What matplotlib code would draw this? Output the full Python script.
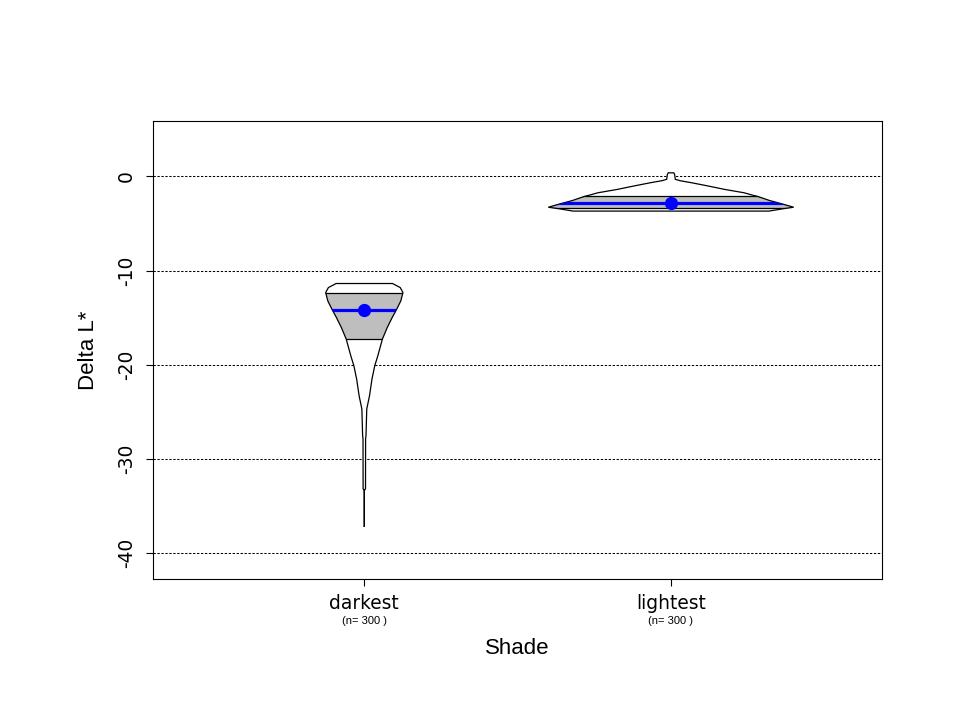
import numpy as np
import matplotlib
matplotlib.use("Agg")
import matplotlib.pyplot as plt
from matplotlib.patches import Polygon, Rectangle

# ---------------- data ----------------
categories = ["darkest", "lightest"]
counts = [300, 300]

# violin outline profiles: value (Delta L*) and half-width of the density
darkest_y = [-11.38, -11.81, -12.34, -13.23, -14.22, -14.99, -16.05, -17.29,
             -18.36, -19.07, -20.13, -21.54, -23.31, -24.72, -27.55, -27.90,
             -33.20, -33.40, -37.27]
darkest_hw = [0.092, 0.117, 0.126, 0.119, 0.104, 0.091, 0.075, 0.059,
              0.050, 0.044, 0.034, 0.025, 0.017, 0.008, 0.0055, 0.0042,
              0.0039, 0.0, 0.0]

lightest_y = [0.39, 0.20, -0.30, -0.45, -0.67, -1.03, -1.38, -1.73, -2.02,
              -2.09, -2.56, -2.91, -3.27, -3.45, -3.68]
lightest_hw = [0.009, 0.012, 0.014, 0.030, 0.068, 0.124, 0.176, 0.238, 0.270,
               0.280, 0.322, 0.362, 0.400, 0.362, 0.319]

q1 = [-17.29, -3.40]
medians = [-14.22, -2.79]
q3 = [-12.41, -2.09]

yticks = [0, -10, -20, -30, -40]

# ---------------- figure ----------------
fig = plt.figure(figsize=(9.6, 7.2), dpi=100)
ax = fig.add_axes([153 / 960, 1 - 579 / 720, (882 - 153) / 960, (579 - 121) / 720])

font = ["Liberation Sans", "DejaVu Sans"]
plt.rcParams["font.family"] = font

ax.set_xlim(0.311, 2.688)
ax.set_ylim(-42.8, 5.9)

for yv in yticks:
    ax.axhline(yv, color="black", lw=0.75, linestyle=(0, (2.2, 1.6)), zorder=1)

profiles = [(darkest_y, darkest_hw), (lightest_y, lightest_hw)]
for i, (ys, hws) in enumerate(profiles):
    pos = i + 1
    ys = np.asarray(ys)
    hws = np.asarray(hws)
    xs = np.concatenate([pos + hws, (pos - hws)[::-1]])
    yy = np.concatenate([ys, ys[::-1]])
    verts = np.column_stack([xs, yy])

    body = Polygon(verts, closed=True, facecolor="white", edgecolor="none", zorder=2)
    ax.add_patch(body)

    box = Rectangle((pos - 1, q1[i]), 2, q3[i] - q1[i], facecolor="#BEBEBE",
                    edgecolor="none", zorder=3)
    ax.add_patch(box)
    box.set_clip_path(body)

    for qv in (q1[i], q3[i]):
        ln, = ax.plot([pos - 1, pos + 1], [qv, qv], color="black", lw=0.9, zorder=4)
        ln.set_clip_path(body)

    outline = Polygon(verts, closed=True, facecolor="none", edgecolor="black",
                      lw=0.9, zorder=5)
    ax.add_patch(outline)

    med, = ax.plot([pos - 1, pos + 1], [medians[i], medians[i]], color="blue",
                   lw=2.3, solid_capstyle="butt", zorder=6)
    med.set_clip_path(body)
    ax.plot([pos], [medians[i]], marker="o", markersize=8.5, color="blue",
            markeredgecolor="blue", zorder=7)

# axes styling
for sp in ax.spines.values():
    sp.set_linewidth(0.8)
    sp.set_color("black")

ax.set_xticks([1, 2])
ax.set_xticklabels(categories, fontsize=13.4)
ax.set_yticks(yticks)
ax.set_yticklabels([str(v) for v in yticks], fontsize=13.4, rotation=90)
for lab in ax.get_yticklabels():
    lab.set_va("center")
ax.tick_params(axis="both", direction="out", length=5.2, width=0.8, color="black")
ax.tick_params(axis="x", pad=5.5)
ax.tick_params(axis="y", pad=7)

for i, n in enumerate(counts):
    ax.annotate(f"(n= {n} )", xy=(i + 1, 0), xycoords=("data", "axes fraction"),
                xytext=(0, -30.5), textcoords="offset points",
                ha="center", va="center", fontsize=8)

fig.text((153 + 882) / 2 / 960, 1 - 648 / 720, "Shade", ha="center", va="center",
         fontsize=16)
fig.text(88 / 960, 1 - 350 / 720, "Delta L*", ha="center", va="center",
         rotation=90, fontsize=16)

fig.savefig("out.png", dpi=100, facecolor="white")
